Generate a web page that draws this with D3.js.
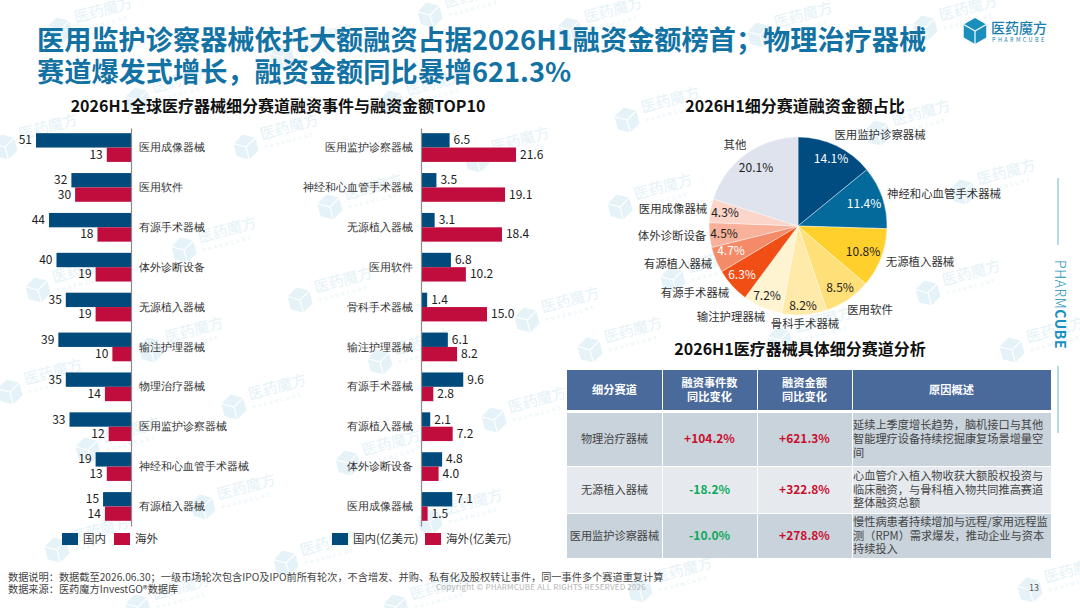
<!DOCTYPE html>
<html>
<head>
<meta charset="utf-8">
<script src="https://cdn.jsdelivr.net/npm/d3@7"></script>
<style>
  html, body { margin: 0; padding: 0; background: #fff; }
  svg { display: block; font-family: "Noto Sans CJK SC", "Noto Sans", sans-serif; }
</style>
</head>
<body>
<div id="chart"></div>
<script>
// left chart: deal counts
const countCats = ["医用成像器械", "医用软件", "有源手术器械", "体外诊断设备", "无源植入器械", "输注护理器械", "物理治疗器械", "医用监护诊察器械", "神经和心血管手术器械", "有源植入器械"];
const countDomestic = [51, 32, 44, 40, 35, 39, 35, 33, 19, 15];
const countOverseas = [13, 30, 18, 19, 19, 10, 14, 12, 13, 14];

// middle chart: amounts
const amountCats = ["医用监护诊察器械", "神经和心血管手术器械", "无源植入器械", "医用软件", "骨科手术器械", "输注护理器械", "有源手术器械", "有源植入器械", "体外诊断设备", "医用成像器械"];
const amountDomestic = [6.5, 3.5, 3.1, 6.8, 1.4, 6.1, 9.6, 2.1, 4.8, 7.1];
const amountOverseas = [21.6, 19.1, 18.4, 10.2, 15.0, 8.2, 2.8, 7.2, 4.0, 1.5];

// pie
const pieCats = ["医用监护诊察器械", "神经和心血管手术器械", "无源植入器械", "医用软件", "骨科手术器械", "输注护理器械", "有源手术器械", "有源植入器械", "体外诊断设备", "医用成像器械", "其他"];
const pieValues = [14.1, 11.4, 10.8, 8.5, 8.2, 7.2, 6.3, 4.7, 4.5, 4.3, 20.1];
const pieColors = ["#004b7f", "#04699b", "#ffd02c", "#ffdf77", "#ffeaa9", "#fff4d2", "#f04e14", "#f48b68", "#f8b29b", "#fbd5c9", "#dee3ed"];
const pieTextColors = ["#fff", "#fff", "#222", "#222", "#222", "#222", "#fff", "#fff", "#222", "#222", "#222"];
const pieLabelPos = [[880, 139], [944, 198], [920, 266], [870, 314], [805, 328], [731, 321], [695, 297], [678, 268], [672, 240], [673, 213], [735, 149]];
const pieValuePos = [[831, 163], [864, 208], [863, 256], [840, 292], [803, 310], [767, 300], [742, 279], [731, 255], [724, 238], [725, 217], [756, 172]];

// table
const tableHead = [["细分赛道"], ["融资事件数", "同比变化"], ["融资金额", "同比变化"], ["原因概述"]];
const tableCats = ["物理治疗器械", "无源植入器械", "医用监护诊察器械"];
const tableCount = ["+104.2%", "-18.2%", "-10.0%"];
const tableAmount = ["+621.3%", "+322.8%", "+278.8%"];
const tableReason = [
  ["延续上季度增长趋势，脑机接口与其他", "智能理疗设备持续挖掘康复场景增量空", "间"],
  ["心血管介入植入物收获大额股权投资与", "临床融资，与骨科植入物共同推高赛道", "整体融资总额"],
  ["慢性病患者持续增加与远程/家用远程监", "测（RPM）需求爆发，推动企业与资本", "持续投入"]
];

const watermarks = [[5, 147], [246, 147], [430, 15], [138, 100], [392, 103], [330, 207], [184, 250], [38, 290], [300, 300], [477, 160],
  [282, 57], [10, 392], [234, 407], [151, 350], [380, 362], [527, 320], [494, 420], [88, 450], [348, 463], [203, 507],
  [430, 522], [57, 550], [286, 563], [138, 607], [396, 607], [627, 120], [878, 133], [963, 192], [928, 293], [673, 280],
  [1012, 350], [780, 340], [620, 207], [570, 30], [760, 35], [925, 28], [60, 30], [1030, 590], [640, 590], [590, 350]];

const BLUE = "#004a7c", RED = "#c00d3e", GREY = "#8c8c8c";

const svg = d3.select("#chart").append("svg").attr("width", 1080).attr("height", 608);

function cube(g, x, y, r, fill) {
  const hex = d3.range(6).map(i => {
    const a = Math.PI / 3 * i - Math.PI / 2;
    return [x + r * Math.cos(a), y + r * Math.sin(a)];
  });
  g.append("path").attr("d", d3.line()(hex) + "Z").attr("fill", fill);
  [0, 2, 4].forEach(i => {
    const p = hex[(i + 1) % 6];
    g.append("line").attr("x1", p[0]).attr("y1", p[1]).attr("x2", x).attr("y2", y)
      .attr("stroke", "#fff").attr("stroke-width", 1.2);
  });
}

// watermark layer
const wm = svg.append("g");
watermarks.forEach(d => {
  const g = wm.append("g").attr("transform", `translate(${d[0]},${d[1]}) rotate(-15)`);
  cube(g, 0, 0, 13, "#e5f2f7");
  g.append("text").attr("x", 17).attr("y", -3).attr("font-size", 15).attr("fill", "#e5f2f7").text("医药魔方");
  g.append("text").attr("x", 18).attr("y", 7).attr("font-size", 5).attr("letter-spacing", 2.4).attr("fill", "#e5f2f7").text("PHARMCUBE");
});

// title
svg.append("text").attr("x", 37).attr("y", 50).attr("font-size", 27.2).attr("font-weight", 700).attr("fill", "#1372a4")
  .text("医用监护诊察器械依托大额融资占据2026H1融资金额榜首；物理治疗器械");
svg.append("text").attr("x", 37).attr("y", 82).attr("font-size", 27.2).attr("font-weight", 700).attr("fill", "#1372a4")
  .text("赛道爆发式增长，融资金额同比暴增621.3%");

// logo
const logo = svg.append("g");
cube(logo, 975, 31, 13, "#1a8fbd");
logo.append("text").attr("x", 991).attr("y", 33).attr("font-size", 14).attr("font-weight", 500).attr("fill", "#1a7fae").text("医药魔方");
logo.append("text").attr("x", 992).attr("y", 41.5).attr("font-size", 5.5).attr("letter-spacing", 2.4).attr("fill", "#1a7fae").text("PHARMCUBE");

// sub titles
function heading(x, y, t) {
  svg.append("text").attr("x", x).attr("y", y).attr("text-anchor", "middle").attr("font-size", 16).attr("font-weight", 700).attr("fill", "#111").text(t);
}
heading(278, 112, "2026H1全球医疗器械细分赛道融资事件与融资金额TOP10");
heading(795, 112, "2026H1细分赛道融资金额占比");
heading(800, 355, "2026H1医疗器械具体细分赛道分析");

// bar panels
function barPanel(cats, dom, over, axisX, pxPerUnit, side, fmt) {
  const y = d3.scaleBand().domain(cats).range([128, 526]).paddingInner(0.28).paddingOuter(0.13);
  const x = d3.scaleLinear().domain([0, 1]).range([0, pxPerUnit * side]);
  const g = svg.append("g").attr("transform", `translate(${axisX},0)`);
  const h = y.bandwidth() / 2;
  [[dom, 0, BLUE], [over, h, RED]].forEach(([vals, off, col]) => {
    cats.forEach((c, i) => {
      const w = x(vals[i]);
      g.append("rect")
        .attr("x", Math.min(0, w)).attr("y", y(c) + off)
        .attr("width", Math.abs(w)).attr("height", h).attr("fill", col);
      g.append("text")
        .attr("x", w + side * 4).attr("y", y(c) + off + h / 2 + 4)
        .attr("text-anchor", side < 0 ? "end" : "start")
        .attr("font-size", 12).attr("fill", "#222").text(fmt(vals[i]));
    });
  });
  // bars grow left on the count panel, so its names sit right of the axis
  const axis = (side < 0 ? d3.axisRight(y) : d3.axisLeft(y)).tickSize(0).tickPadding(8);
  const ax = g.append("g").call(axis);
  ax.select(".domain").attr("stroke", GREY).attr("stroke-width", 1.2);
  ax.selectAll("text").attr("font-size", 11.4).attr("fill", "#333").attr("font-family", "inherit");
}
barPanel(countCats, countDomestic, countOverseas, 131, 1.863, -1, d => d);
barPanel(amountCats, amountDomestic, amountOverseas, 421, 4.4, 1, d => d.toFixed(1));

// legends
function legend(x, col, t) {
  svg.append("rect").attr("x", x).attr("y", 533).attr("width", 16).attr("height", 12).attr("fill", col);
  svg.append("text").attr("x", x + 21).attr("y", 543).attr("font-size", 11.5).attr("fill", "#333").text(t);
}
legend(62, BLUE, "国内");
legend(114, RED, "海外");
legend(332, BLUE, "国内(亿美元)");
legend(425, RED, "海外(亿美元)");

// pie
const pieG = svg.append("g").attr("transform", "translate(798,226)");
const arcs = d3.pie().sort(null).value(d => d)(pieValues);
const arc = d3.arc().innerRadius(0).outerRadius(89);
pieG.selectAll("path").data(arcs).enter().append("path")
  .attr("d", arc).attr("fill", (d, i) => pieColors[i]).attr("stroke", "#fff").attr("stroke-width", 0.4);
arcs.forEach((d, i) => {
  svg.append("text").attr("x", pieValuePos[i][0]).attr("y", pieValuePos[i][1]).attr("text-anchor", "middle")
    .attr("font-size", 12).attr("fill", pieTextColors[i]).text(d.value.toFixed(1) + "%");
});
pieCats.forEach((c, i) => {
  svg.append("text").attr("x", pieLabelPos[i][0]).attr("y", pieLabelPos[i][1]).attr("text-anchor", "middle")
    .attr("font-size", 11.4).attr("fill", "#333").text(c);
});

// table
const colX = [567, 662, 757, 852, 1051];
const rowY = [[370, 410], [413, 466], [467, 513], [514, 558]];
const rowFill = ["#4a6a9c", "#c9d3dc", "#e6eaee", "#c9d3dc"];
const tb = svg.append("g");
rowY.forEach((r, ri) => {
  for (let c = 0; c < 4; c++) {
    tb.append("rect").attr("x", colX[c] + (c ? 1 : 0)).attr("y", r[0])
      .attr("width", colX[c + 1] - colX[c] - (c ? 1 : 0)).attr("height", r[1] - r[0]).attr("fill", rowFill[ri]);
  }
});
function cellLines(x, cy, lines, opt) {
  lines.forEach((l, i) => {
    tb.append("text").attr("x", x).attr("y", cy + (i - (lines.length - 1) / 2) * opt.lh + 4)
      .attr("text-anchor", opt.anchor || "middle").attr("font-size", opt.size || 11.2)
      .attr("font-weight", opt.weight || 400).attr("fill", opt.fill).text(l);
  });
}
const mid = c => (colX[c] + colX[c + 1]) / 2;
tableHead.forEach((h, c) => cellLines(mid(c), 390, h, { lh: 14, weight: 700, fill: "#fff" }));
const pctColor = s => s[0] === "+" ? "#c8102e" : "#0ea85a";
tableCats.forEach((name, i) => {
  const cy = (rowY[i + 1][0] + rowY[i + 1][1]) / 2 - 0.5;
  cellLines(mid(0), cy, [name], { lh: 14, fill: "#444" });
  cellLines(mid(1), cy, [tableCount[i]], { lh: 14, weight: 700, size: 12, fill: pctColor(tableCount[i]) });
  cellLines(mid(2), cy, [tableAmount[i]], { lh: 14, weight: 700, size: 12, fill: pctColor(tableAmount[i]) });
  cellLines(853, cy, tableReason[i], { lh: 13.6, anchor: "start", fill: "#444" });
});

// side mark
svg.append("line").attr("x1", 1058).attr("x2", 1058).attr("y1", 178).attr("y2", 245).attr("stroke", "#6fb6d2").attr("stroke-width", 1);
svg.append("line").attr("x1", 1058).attr("x2", 1058).attr("y1", 366).attr("y2", 433).attr("stroke", "#6fb6d2").attr("stroke-width", 1);
const side = svg.append("text").attr("transform", "translate(1055,260) rotate(90)").attr("font-size", 14).attr("fill", "#1a8fbd").attr("letter-spacing", 0.6);
side.append("tspan").attr("font-weight", 300).text("PHARM");
side.append("tspan").attr("font-weight", 700).text("CUBE");

// footer
svg.append("text").attr("x", 8).attr("y", 581).attr("font-size", 10.2).attr("fill", "#444")
  .text("数据说明：数据截至2026.06.30；一级市场轮次包含IPO及IPO前所有轮次，不含增发、并购、私有化及股权转让事件，同一事件多个赛道重复计算");
svg.append("text").attr("x", 8).attr("y", 593).attr("font-size", 10.2).attr("fill", "#444")
  .text("数据来源：医药魔方InvestGO®数据库");
svg.append("text").attr("x", 436).attr("y", 590).attr("font-size", 8).attr("fill", "#b5b5b5").attr("letter-spacing", 0.2)
  .text("Copyright © PHARMCUBE ALL RIGHTS RESERVED 2026");
svg.append("text").attr("x", 1029).attr("y", 591).attr("font-size", 9).attr("fill", "#555").text("13");
</script>
</body>
</html>
